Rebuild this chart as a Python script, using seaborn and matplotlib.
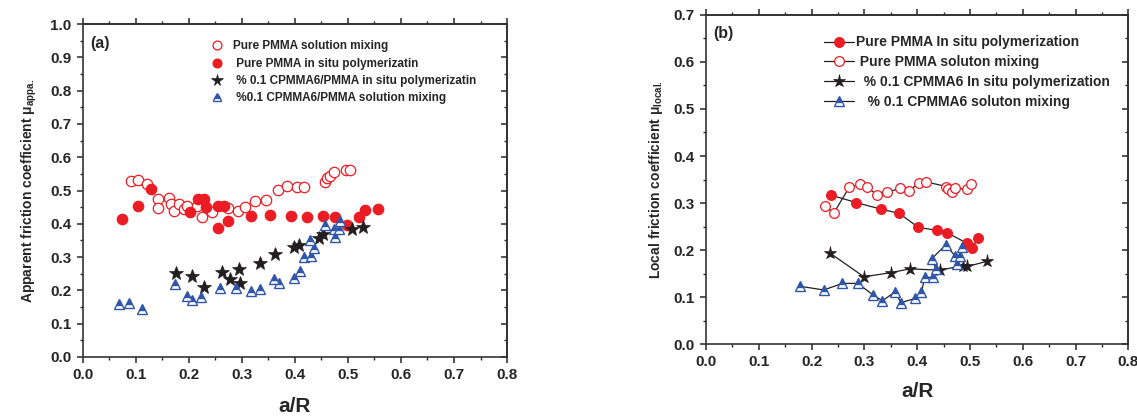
import numpy as np
import pandas as pd
import matplotlib
matplotlib.use('Agg')
import matplotlib.pyplot as plt
import seaborn as sns
from matplotlib.ticker import MultipleLocator

# ---- panel (a): apparent friction coefficient ----
a_open_x = [0.091, 0.104, 0.121, 0.143, 0.143, 0.162, 0.166, 0.173, 0.182, 0.191,
            0.197, 0.215, 0.226, 0.244, 0.274, 0.293, 0.307, 0.325, 0.345, 0.368,
            0.385, 0.405, 0.418, 0.457, 0.460, 0.466, 0.474, 0.497, 0.504]
a_open_y = [0.530, 0.533, 0.519, 0.476, 0.448, 0.477, 0.461, 0.439, 0.461, 0.445,
            0.453, 0.453, 0.419, 0.435, 0.446, 0.437, 0.452, 0.468, 0.472, 0.503,
            0.513, 0.511, 0.511, 0.527, 0.538, 0.543, 0.555, 0.563, 0.563]

a_fill_x = [0.075, 0.104, 0.129, 0.202, 0.217, 0.228, 0.233, 0.255, 0.267, 0.255,
            0.275, 0.317, 0.353, 0.392, 0.423, 0.454, 0.475, 0.499, 0.520, 0.532, 0.557]
a_fill_y = [0.415, 0.453, 0.504, 0.435, 0.475, 0.476, 0.450, 0.455, 0.455, 0.386,
            0.409, 0.423, 0.426, 0.423, 0.420, 0.423, 0.420, 0.395, 0.419, 0.440, 0.443]

a_star_x = [0.177, 0.206, 0.228, 0.262, 0.278, 0.295, 0.297, 0.335, 0.363, 0.398,
            0.408, 0.446, 0.453, 0.508, 0.529]
a_star_y = [0.252, 0.244, 0.210, 0.254, 0.235, 0.265, 0.221, 0.283, 0.310, 0.331,
            0.337, 0.358, 0.370, 0.385, 0.391]

a_tri_x = [0.069, 0.088, 0.112, 0.175, 0.197, 0.206, 0.224, 0.259, 0.289, 0.317,
           0.335, 0.360, 0.371, 0.398, 0.409, 0.417, 0.431, 0.437, 0.429, 0.456,
           0.473, 0.483, 0.476, 0.485]
a_tri_y = [0.160, 0.162, 0.143, 0.218, 0.184, 0.172, 0.181, 0.206, 0.206, 0.197,
           0.204, 0.233, 0.223, 0.237, 0.258, 0.300, 0.304, 0.327, 0.350, 0.395,
           0.385, 0.385, 0.361, 0.408]

a_labels = ['Pure PMMA solution mixing',
            ' Pure PMMA in situ polymerizatin',
            ' % 0.1 CPMMA6/PMMA in situ polymerizatin',
            ' %0.1 CPMMA6/PMMA solution mixing']

# ---- panel (b): local friction coefficient ----
b_fill_x = [0.236, 0.284, 0.331, 0.366, 0.402, 0.437, 0.456, 0.495, 0.504, 0.515]
b_fill_y = [0.317, 0.301, 0.287, 0.278, 0.248, 0.242, 0.237, 0.214, 0.205, 0.225]

b_open_x = [0.225, 0.242, 0.271, 0.292, 0.305, 0.324, 0.343, 0.367, 0.384, 0.403,
            0.417, 0.455, 0.459, 0.466, 0.472, 0.494, 0.501]
b_open_y = [0.293, 0.279, 0.333, 0.340, 0.335, 0.316, 0.323, 0.331, 0.325, 0.343,
            0.345, 0.335, 0.329, 0.323, 0.331, 0.330, 0.340]

b_star_x = [0.234, 0.299, 0.351, 0.386, 0.443, 0.486, 0.495, 0.532]
b_star_y = [0.194, 0.143, 0.152, 0.160, 0.157, 0.167, 0.165, 0.176]

b_tri_x = [0.177, 0.223, 0.258, 0.287, 0.317, 0.334, 0.358, 0.369, 0.396, 0.408,
           0.414, 0.429, 0.436, 0.427, 0.454, 0.471, 0.475, 0.481, 0.484]
b_tri_y = [0.123, 0.115, 0.129, 0.129, 0.104, 0.092, 0.111, 0.088, 0.097, 0.110,
           0.142, 0.142, 0.159, 0.181, 0.211, 0.188, 0.170, 0.187, 0.207]

b_labels = ['Pure PMMA In situ polymerization',
            ' Pure PMMA soluton mixing',
            '  % 0.1 CPMMA6 In situ polymerization',
            '   % 0.1 CPMMA6 soluton mixing']

red = '#ec1c24'
blue = '#2f56a8'
black = '#231f20'

sns.set_style('ticks')
plt.rcParams['font.family'] = ['Liberation Sans', 'DejaVu Sans']
plt.rcParams['font.weight'] = 'bold'
plt.rcParams['mathtext.fontset'] = 'custom'
plt.rcParams['mathtext.rm'] = 'Liberation Sans'
plt.rcParams['mathtext.it'] = 'Liberation Sans'

fig = plt.figure(figsize=(11.37, 4.16), dpi=100)
ax1 = fig.add_axes([0.0726, 0.142, 0.3734, 0.800])
ax2 = fig.add_axes([0.621, 0.173, 0.3715, 0.791])


def draw(ax, x, y, ls, label, style):
    sns.lineplot(x=x, y=y, ax=ax, estimator=None, sort=False,
                 linestyle=ls, linewidth=0.9, label=label, **style)


def styles(ms):
    return [
        dict(color=red, marker='o', ms=ms, mfc='white', mec=red, mew=0.9),
        dict(color=red, marker='o', ms=ms, mfc=red, mec=red, mew=0.9),
        dict(color=black, marker='*', ms=ms + 2.5, mfc=black, mec=black, mew=0.5),
        dict(color=blue, marker='^', ms=ms, mfc=blue, mec=blue, mew=1.0,
             fillstyle='top', markerfacecoloralt='white'),
    ]


sa = styles(7.5)
draw(ax1, a_open_x, a_open_y, '', a_labels[0], sa[0])
draw(ax1, a_fill_x, a_fill_y, '', a_labels[1], sa[1])
draw(ax1, a_star_x, a_star_y, '', a_labels[2], sa[2])
draw(ax1, a_tri_x, a_tri_y, '', a_labels[3], sa[3])

sb = styles(7)
draw(ax2, b_fill_x, b_fill_y, '-', b_labels[0], {**sb[1], 'color': black})
draw(ax2, b_open_x, b_open_y, '-', b_labels[1], {**sb[0], 'color': black})
draw(ax2, b_star_x, b_star_y, '-', b_labels[2], sb[2])
draw(ax2, b_tri_x, b_tri_y, '-', b_labels[3], {**sb[3], 'color': black})

for ax, ytop in [(ax1, 1.0), (ax2, 0.7)]:
    ax.set_xlim(0, 0.8)
    ax.set_ylim(0, ytop)
    ax.xaxis.set_major_locator(MultipleLocator(0.1))
    ax.xaxis.set_minor_locator(MultipleLocator(0.05))
    ax.yaxis.set_major_locator(MultipleLocator(0.1))
    ax.yaxis.set_minor_locator(MultipleLocator(0.05))
    ax.tick_params(which='major', direction='out', length=4.5, width=1.1,
                   labelsize=11, top=False, right=False)
    ax.tick_params(which='minor', direction='out', length=2.5, width=1.0,
                   top=False, right=False)
    ax.xaxis.set_major_formatter(matplotlib.ticker.FormatStrFormatter('%.1f'))
    ax.yaxis.set_major_formatter(matplotlib.ticker.FormatStrFormatter('%.1f'))
    for sp in ax.spines.values():
        sp.set_visible(True)
        sp.set_linewidth(1.2)
        sp.set_color('#333333')
    sec_x = ax.secondary_xaxis('top')
    sec_x.xaxis.set_major_locator(MultipleLocator(0.1))
    sec_x.xaxis.set_minor_locator(MultipleLocator(0.05))
    sec_x.tick_params(which='major', direction='out', length=4.5, width=1.1, labeltop=False)
    sec_x.tick_params(which='minor', direction='out', length=2.5, width=1.0)
    sec_x.spines['top'].set_linewidth(1.2)
    sec_y = ax.secondary_yaxis('right')
    sec_y.yaxis.set_major_locator(MultipleLocator(0.1))
    sec_y.yaxis.set_minor_locator(MultipleLocator(0.05))
    sec_y.tick_params(which='major', direction='in', length=4.5, width=1.1, labelright=False)
    sec_y.tick_params(which='minor', direction='in', length=2.5, width=1.0)
    sec_y.spines['right'].set_linewidth(1.2)

ax1.set_xlabel('a/R', fontsize=15, fontweight='bold', labelpad=11)
ax2.set_xlabel('a/R', fontsize=15, fontweight='bold', labelpad=9)

ax1.set_ylabel(r'Apparent friction coefficient $\mu_{\mathregular{appa.}}$',
               fontsize=10, fontweight='bold', labelpad=8)
ax2.set_ylabel(r'Local friction coefficient $\mu_{\mathregular{local.}}$',
               fontsize=10, fontweight='bold', labelpad=6)

ax1.text(0.017, 0.965, '(a)', transform=ax1.transAxes, fontsize=11.5,
         fontweight='bold', va='top')
ax2.text(0.017, 0.965, '(b)', transform=ax2.transAxes, fontsize=11.5,
         fontweight='bold', va='top')

ax1.legend(loc='upper left', bbox_to_anchor=(0.303, 0.951), frameon=False,
           fontsize=8.5, handlelength=1.0, handletextpad=0.85, labelspacing=0.45,
           markerscale=0.85, borderaxespad=0, borderpad=0)
ax2.legend(loc='upper left', bbox_to_anchor=(0.279, 0.938), frameon=False,
           fontsize=10, handlelength=2.15, handletextpad=0.15, labelspacing=0.42,
           borderaxespad=0, borderpad=0)

fig.savefig('out.png', dpi=100)
